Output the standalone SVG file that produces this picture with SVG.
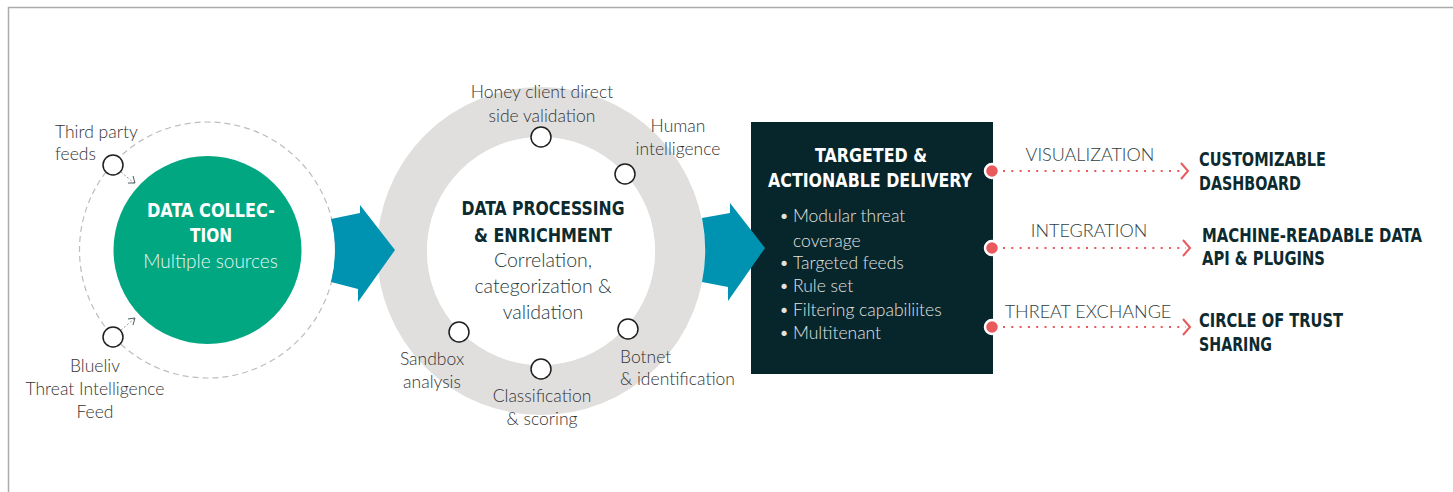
<svg xmlns="http://www.w3.org/2000/svg" width="1453" height="492" viewBox="0 0 1453 492">
<defs>
<style>
.lt{font-family:Lato,"Open Sans","Liberation Sans",sans-serif;font-weight:300;font-size:17.5px;fill:#333333}
.hd{font-family:"DejaVu Sans Condensed","DejaVu Sans","Liberation Sans",sans-serif;font-stretch:condensed;font-weight:bold;font-size:19.5px}
.wh{fill:#ffffff}
.dk{fill:#0c2a2f}
.bl{font-family:Lato,"Open Sans","Liberation Sans",sans-serif;font-weight:300;font-size:17.5px;fill:#e2e2e2}
.sc{fill:#fff;stroke:#1e1e1e;stroke-width:1.5}
.big{fill:#0093b1}
.dot{fill:#e95a5c;stroke:#fff;stroke-width:2.5}
.dl{stroke:#e95a5c;stroke-width:2.2;stroke-dasharray:2 6.3;fill:none}
.chev{stroke:#e95a5c;stroke-width:2;fill:none}
.sa{stroke:#8a9aa0;stroke-width:1;stroke-dasharray:2 2;fill:none}
.sah{stroke:#4a5a60;stroke-width:1;fill:none}
.mid{fill:#1e3a3c;font-size:19.5px}
.lab{fill:#2f3e42;font-size:18px}
</style>
</defs>
<rect x="0" y="0" width="1453" height="492" fill="#fff"/>
<path d="M8.5,492 V7.5 H1453" fill="none" stroke="#ababab" stroke-width="1.5"/>

<g id="node-data-collection">
<circle cx="207.5" cy="250" r="128" fill="none" stroke="#bdbdbd" stroke-width="1.2" stroke-dasharray="6 4"/>
<circle cx="207.5" cy="250" r="94" fill="#00a781"/>
<text class="hd wh" x="211" y="217" text-anchor="middle" textLength="128" lengthAdjust="spacingAndGlyphs">DATA COLLEC-</text>
<text class="hd wh" x="211" y="242" text-anchor="middle" textLength="42" lengthAdjust="spacingAndGlyphs">TION</text>
<text class="lt" x="210.5" y="268" text-anchor="middle" style="fill:#eaf6f2;font-size:19px">Multiple sources</text>
</g>

<g id="source-third-party">
<circle class="sc" cx="113" cy="165" r="10"/>
<text class="lt" x="55" y="138">Third party</text>
<text class="lt" x="55" y="160">feeds</text>
</g>

<g id="source-blueliv">
<circle class="sc" cx="113" cy="337" r="10"/>
<text class="lt" x="95" y="372" text-anchor="middle">Blueliv</text>
<text class="lt" x="95" y="395" text-anchor="middle">Threat Intelligence</text>
<text class="lt" x="95" y="418" text-anchor="middle">Feed</text>
</g>

<g id="node-data-processing">
<circle cx="541" cy="251" r="139" fill="none" stroke="#e0dfde" stroke-width="50"/>
<circle cx="541" cy="251" r="114" fill="#fff"/>
<text class="hd dk" x="543" y="215" text-anchor="middle" textLength="163" lengthAdjust="spacingAndGlyphs">DATA PROCESSING</text>
<text class="hd dk" x="543" y="242" text-anchor="middle" textLength="138" lengthAdjust="spacingAndGlyphs">&amp; ENRICHMENT</text>
<text class="lt mid" x="543" y="267" text-anchor="middle">Correlation,</text>
<text class="lt mid" x="543" y="293" text-anchor="middle">categorization &amp;</text>
<text class="lt mid" x="543" y="319" text-anchor="middle">validation</text>
</g>

<g id="step-honey-client">
<circle class="sc" cx="541" cy="137" r="10"/>
<text class="lt" x="542" y="98" text-anchor="middle">Honey client direct</text>
<text class="lt" x="542" y="122" text-anchor="middle">side validation</text>
</g>
<g id="step-human-intelligence">
<circle class="sc" cx="625" cy="174" r="10"/>
<text class="lt" x="678" y="132" text-anchor="middle">Human</text>
<text class="lt" x="678" y="155" text-anchor="middle">intelligence</text>
</g>
<g id="step-sandbox">
<circle class="sc" cx="459" cy="332" r="10"/>
<text class="lt" x="432" y="365" text-anchor="middle">Sandbox</text>
<text class="lt" x="432" y="388" text-anchor="middle">analysis</text>
</g>
<g id="step-classification">
<circle class="sc" cx="541" cy="369" r="10"/>
<text class="lt" x="542" y="402" text-anchor="middle">Classification</text>
<text class="lt" x="542" y="425" text-anchor="middle">&amp; scoring</text>
</g>
<g id="step-botnet">
<circle class="sc" cx="628" cy="329" r="10"/>
<text class="lt" x="620" y="363">Botnet</text>
<text class="lt" x="620" y="385">&amp; identification</text>
</g>

<g id="node-delivery">
<rect x="751" y="122" width="242" height="252" fill="#06262c"/>
<text class="hd wh" x="871" y="162" text-anchor="middle" textLength="112" lengthAdjust="spacingAndGlyphs">TARGETED &amp;</text>
<text class="hd wh" x="870" y="187" text-anchor="middle" textLength="204" lengthAdjust="spacingAndGlyphs">ACTIONABLE DELIVERY</text>
<g class="bl">
<text x="779" y="222">•</text><text x="793" y="222">Modular threat</text>
<text x="793" y="247">coverage</text>
<text x="779" y="269">•</text><text x="793" y="269">Targeted feeds</text>
<text x="779" y="292">•</text><text x="793" y="292">Rule set</text>
<text x="779" y="316">•</text><text x="793" y="316">Filtering capabiliites</text>
<text x="779" y="339">•</text><text x="793" y="339">Multitenant</text>
</g>
</g>

<g id="node-dashboard">
<text class="hd dk" x="1199" y="166" textLength="127" lengthAdjust="spacingAndGlyphs">CUSTOMIZABLE</text>
<text class="hd dk" x="1199" y="190" textLength="102" lengthAdjust="spacingAndGlyphs">DASHBOARD</text>
</g>
<g id="node-api">
<text class="hd dk" transform="translate(1202,242) scale(0.8,1)" x="0" y="0" textLength="275" lengthAdjust="spacingAndGlyphs">MACHINE-READABLE DATA</text>
<text class="hd dk" x="1202" y="265" textLength="123" lengthAdjust="spacingAndGlyphs">API &amp; PLUGINS</text>
</g>
<g id="node-circle-of-trust">
<text class="hd dk" x="1199" y="327" textLength="144" lengthAdjust="spacingAndGlyphs">CIRCLE OF TRUST</text>
<text class="hd dk" x="1199" y="351" textLength="73" lengthAdjust="spacingAndGlyphs">SHARING</text>
</g>

<g id="connectors">
<path class="big" d="M331,219 L360,213 L360,205 L395,250 L358,302 L358,289 L331,282 A128,128 0 0 0 331,219 Z"/>
<path class="big" d="M702,218 L730,213 L730,203 L765,248 L728,301 L728,287 L702,282 A164,164 0 0 0 702,218 Z"/>

<path class="sa" d="M121,172 L134,183"/>
<path class="sah" d="M133,176 L135,183 L128,183"/>
<path class="sa" d="M121,330 L134,319"/>
<path class="sah" d="M128,319 L135,318 L133,325"/>

<g id="link-visualization">
<line class="dl" x1="1003" y1="171" x2="1184" y2="171"/>
<polyline class="chev" points="1181,163 1188,171 1181,179"/>
<circle class="dot" cx="992" cy="171" r="7"/>
<text class="lt lab" x="1090" y="161" text-anchor="middle">VISUALIZATION</text>
</g>
<g id="link-integration">
<line class="dl" x1="1003" y1="248" x2="1186" y2="248"/>
<polyline class="chev" points="1183,240 1190,248 1183,256"/>
<circle class="dot" cx="992" cy="248" r="7"/>
<text class="lt lab" x="1089" y="237" text-anchor="middle">INTEGRATION</text>
</g>
<g id="link-threat-exchange">
<line class="dl" x1="1003" y1="327" x2="1186" y2="327"/>
<polyline class="chev" points="1183,319 1190,327 1183,335"/>
<circle class="dot" cx="992" cy="327" r="7"/>
<text class="lt lab" x="1088" y="318" text-anchor="middle">THREAT EXCHANGE</text>
</g>
</g>
</svg>
